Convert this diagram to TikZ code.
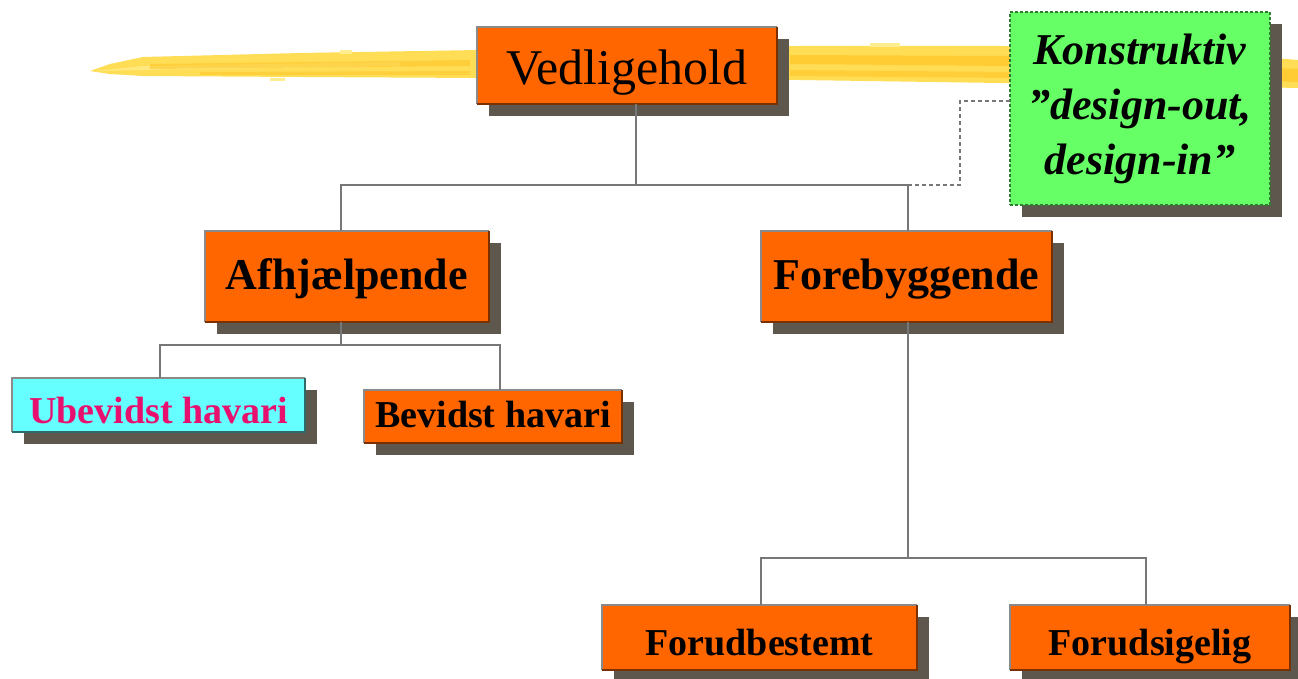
\documentclass[tikz,border=0pt]{standalone}
\usepackage{fontspec}
\setmainfont{Liberation Serif}
\usetikzlibrary{shadows}
\definecolor{orangec}{HTML}{FF6600}
\definecolor{cyanc}{HTML}{66FFFF}
\definecolor{greenc}{HTML}{66FF66}
\definecolor{shadowc}{HTML}{5E574E}
\definecolor{bordlight}{HTML}{8A8A8A}
\definecolor{borddark}{HTML}{7A3000}
\definecolor{bordteal}{HTML}{2F6A6A}
\definecolor{bordgreen}{HTML}{2E7D32}
\definecolor{connc}{HTML}{777777}
\definecolor{pinkc}{HTML}{E8106E}
\definecolor{yelA}{HTML}{FFDD55}
\definecolor{yelB}{HTML}{FFC526}
\definecolor{yelC}{HTML}{FFEE90}
\tikzset{
  box/.style={rectangle, inner sep=0pt, outer sep=0pt, draw=none,
    general shadow={fill=shadowc, shadow xshift=12pt, shadow yshift=-12pt}},
  obox/.style={box, fill=orangec},
  bigfont/.style={font=\fontsize{50}{60}\selectfont},
  midfont/.style={font=\fontsize{44}{52}\selectfont\bfseries},
  smallfont/.style={font=\fontsize{38}{46}\selectfont\bfseries},
  conn/.style={draw=connc, line width=2pt},
  dotconn/.style={draw=connc, line width=2pt, dash pattern=on 4pt off 3pt},
  bordlt/.style={draw=bordlight, line width=2.5pt},
  borddk/.style={draw=borddark, line width=2.5pt},
}
\begin{document}
\begin{tikzpicture}[x=1pt,y=-1pt]
\useasboundingbox (0,0) rectangle (1298,679);
% yellow brush stroke
\fill[yelA] (90,71) -- (110,64) -- (143,57) -- (300,53) -- (480,50) -- (800,46) -- (1000,46) -- (1200,52) -- (1298,60)
  -- (1298,88) -- (1200,86) -- (1000,83) -- (800,80) -- (480,78) -- (300,77) -- (143,76) -- (110,74) -- cycle;
\fill[yelC,opacity=.7] (95,71) -- (143,66) -- (400,62) -- (400,66) -- (143,70) -- cycle;
\fill[yelB,opacity=.55] (150,64) -- (470,60) -- (470,66) -- (150,69) -- cycle;
\fill[yelB,opacity=.5] (200,72) -- (470,71) -- (470,75) -- (200,75) -- cycle;
\fill[yelB,opacity=.7] (790,55) -- (1010,56) -- (1010,66) -- (790,64) -- cycle;
\fill[yelB,opacity=.6] (790,70) -- (1010,72) -- (1010,78) -- (790,76) -- cycle;
\fill[yelB,opacity=.7] (1275,68) -- (1298,69) -- (1298,82) -- (1275,81) -- cycle;
\fill[yelC] (340,50) rectangle (352,54);
\fill[yelC] (560,47) rectangle (580,51);
\fill[yelC] (870,43) rectangle (900,47);
\fill[yelC] (270,78) rectangle (285,81);
% boxes
\node[obox, bigfont, minimum width=300pt, minimum height=77pt, text height=39.5pt, text depth=0.5pt] (ved) at (627,65.5) {Vedligehold};
\node[obox, midfont, minimum width=284pt, minimum height=91pt, text height=32.5pt, text depth=7.5pt] (afh) at (347,276.5) {Afhjælpende};
\node[obox, midfont, minimum width=291pt, minimum height=91pt, text height=32.5pt, text depth=7.5pt] (fore) at (906.5,276.5) {Forebyggende};
\node[box, fill=cyanc, text=pinkc, smallfont, minimum width=293pt, minimum height=54pt, text height=38pt, text depth=2pt] (ubev) at (158.5,405) {Ubevidst havari};
\node[obox, smallfont, minimum width=258pt, minimum height=53pt, text height=30.5pt, text depth=9.5pt] (bev) at (493,416.5) {Bevidst havari};
\node[obox, smallfont, minimum width=315pt, minimum height=65pt, text height=37.5pt, text depth=2.5pt] (forud) at (759.5,637.5) {Forudbestemt};
\node[obox, smallfont, minimum width=280pt, minimum height=65pt, text height=37.5pt, text depth=2.5pt] (forsig) at (1150,637.5) {Forudsigelig};
\node[box, fill=greenc, draw=bordgreen, line width=2pt, dash pattern=on 3pt off 2pt,
  minimum width=260pt, minimum height=193pt, align=center,
  font=\fontsize{44}{55}\selectfont\bfseries\itshape] (kons) at (1140,108.5)
  {Konstruktiv\\”design-out,\\design-in”};
% box borders
\foreach \n in {ved,afh,fore,bev,forud,forsig} {
  \draw[bordlt] (\n.south west) -- (\n.north west) -- (\n.north east);
  \draw[borddk] (\n.north east) -- (\n.south east) -- (\n.south west);
}
\draw[bordlt] (ubev.south west) -- (ubev.north west) -- (ubev.north east);
\draw[bordteal, line width=2.5pt] (ubev.north east) -- (ubev.south east) -- (ubev.south west);
% connectors
\coordinate (j1) at (636,185);
\coordinate (j2) at (341,345);
\coordinate (j3) at (908,558);
\coordinate (j4) at (908,185);
\draw[conn] ([xshift=9pt]ved.south) -- (j1);
\draw[conn] ([xshift=-6pt]afh.north) |- (j1) -| ([xshift=1.5pt]fore.north);
\draw[conn] ([xshift=-6pt]afh.south) -- (j2);
\draw[conn] ([xshift=1.5pt]ubev.north) |- (j2) -| ([xshift=7pt]bev.north);
\draw[conn] ([xshift=1.5pt]fore.south) -- (j3);
\draw[conn] ([xshift=1.5pt]forud.north) |- (j3) -| ([xshift=-4pt]forsig.north);
\draw[dotconn] (j4) -- ++(52,0) |- ([yshift=7.5pt]kons.west);
\end{tikzpicture}
\end{document}
